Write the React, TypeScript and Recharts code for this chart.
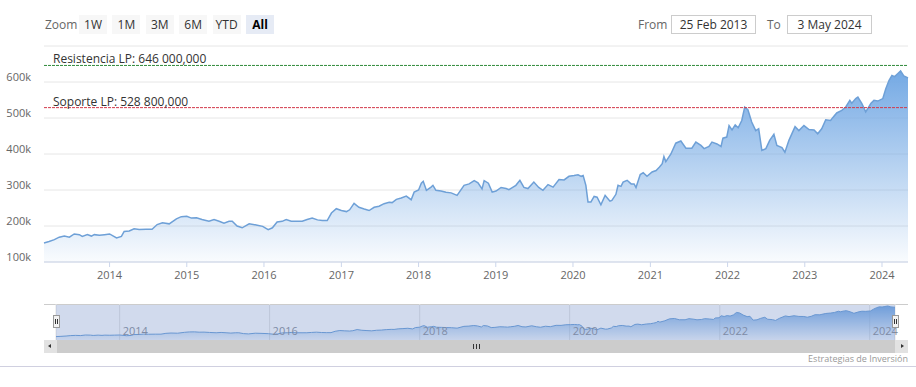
import React from 'react'
import {
  AreaChart,
  Area,
  XAxis,
  YAxis,
  CartesianGrid,
  ReferenceLine,
} from 'recharts'

const FONT = '"Open Sans", "DejaVu Sans", sans-serif'

// weekly-ish closes (values in thousands)
const dates2013 = ['2013-02-25', '2013-03-21', '2013-04-15', '2013-05-08', '2013-06-01', '2013-06-25', '2013-07-18', '2013-08-11', '2013-08-25', '2013-09-18', '2013-10-07', '2013-10-21', '2013-11-14', '2013-12-08']
const values2013 = [153, 157, 162, 169, 172, 169, 178, 176, 171, 176, 172, 176, 174, 176]
const dates2014 = ['2014-01-01', '2014-02-03', '2014-02-26', '2014-03-11', '2014-04-04', '2014-04-27', '2014-05-21', '2014-06-23', '2014-07-21', '2014-08-14', '2014-09-08', '2014-10-10', '2014-11-13', '2014-12-06']
const values2014 = [178, 167, 171, 185, 186, 192, 190, 191, 191, 204, 209, 206, 220, 226]
const dates2015 = ['2015-01-01', '2015-01-23', '2015-02-16', '2015-03-14', '2015-04-16', '2015-05-10', '2015-06-03', '2015-06-26', '2015-07-20', '2015-08-04', '2015-08-27', '2015-09-20', '2015-10-23', '2015-11-25', '2015-12-26']
const values2015 = [227, 222, 223, 218, 213, 218, 213, 208, 213, 213, 200, 195, 206, 203, 199]
const dates2016 = ['2016-01-21', '2016-02-10', '2016-03-03', '2016-03-27', '2016-04-15', '2016-05-09', '2016-06-07', '2016-06-30', '2016-07-23', '2016-08-16', '2016-09-10', '2016-10-03', '2016-10-26', '2016-11-15', '2016-12-08']
const values2016 = [190, 195, 211, 213, 218, 213, 213, 213, 218, 222, 217, 215, 215, 236, 248]
const dates2017 = ['2017-01-01', '2017-01-25', '2017-02-09', '2017-03-02', '2017-03-25', '2017-04-19', '2017-05-12', '2017-06-05', '2017-06-28', '2017-07-22', '2017-08-15', '2017-08-29', '2017-09-18', '2017-10-11', '2017-11-04', '2017-11-27', '2017-12-11']
const values2017 = [243, 240, 245, 263, 252, 247, 243, 252, 255, 262, 266, 265, 274, 278, 283, 273, 294]
const dates2018 = ['2018-01-01', '2018-01-14', '2018-01-23', '2018-02-07', '2018-03-01', '2018-03-10', '2018-03-24', '2018-04-17', '2018-05-11', '2018-06-04', '2018-07-02', '2018-08-04', '2018-08-28', '2018-09-21', '2018-10-09', '2018-10-28', '2018-11-07', '2018-11-27', '2018-12-15']
const values2018 = [300, 319, 324, 299, 308, 313, 299, 297, 294, 292, 285, 313, 317, 326, 320, 303, 326, 319, 294]
const dates2019 = ['2019-01-02', '2019-01-26', '2019-02-19', '2019-03-04', '2019-03-18', '2019-04-06', '2019-04-25', '2019-05-14', '2019-06-02', '2019-06-30', '2019-07-23', '2019-08-12', '2019-09-05', '2019-09-29', '2019-10-27', '2019-11-20', '2019-12-13']
const values2019 = [297, 307, 304, 301, 306, 313, 327, 307, 304, 322, 307, 299, 315, 308, 329, 328, 338]
const dates2020 = ['2020-01-06', '2020-01-25', '2020-02-09', '2020-02-18', '2020-03-02', '2020-03-12', '2020-03-26', '2020-04-10', '2020-04-24', '2020-05-12', '2020-06-01', '2020-06-24', '2020-07-03', '2020-07-22', '2020-08-01', '2020-08-15', '2020-08-25', '2020-09-13', '2020-10-02', '2020-10-16', '2020-10-25', '2020-11-14', '2020-11-28', '2020-12-16']
const values2020 = [340, 342, 338, 340, 313, 267, 267, 282, 280, 259, 285, 269, 271, 288, 313, 310, 322, 327, 317, 317, 307, 343, 348, 338]
const dates2021 = ['2021-01-09', '2021-01-28', '2021-02-12', '2021-02-26', '2021-03-06', '2021-03-15', '2021-04-08', '2021-05-01', '2021-05-25', '2021-06-18', '2021-07-16', '2021-08-04', '2021-08-28', '2021-09-12', '2021-10-05', '2021-10-19', '2021-11-12', '2021-12-01', '2021-12-10', '2021-12-28']
const values2021 = [350, 354, 363, 373, 393, 379, 400, 430, 436, 416, 416, 433, 424, 415, 421, 433, 428, 421, 444, 447]
const dates2022 = ['2022-01-08', '2022-01-22', '2022-02-06', '2022-02-20', '2022-03-09', '2022-03-23', '2022-04-07', '2022-04-25', '2022-05-14', '2022-05-28', '2022-06-12', '2022-07-01', '2022-07-19', '2022-08-08', '2022-08-22', '2022-09-15', '2022-09-29', '2022-10-18', '2022-11-16', '2022-12-04', '2022-12-28']
const values2022 = [479, 467, 481, 473, 493, 530, 523, 489, 465, 470, 410, 415, 438, 455, 424, 418, 405, 438, 476, 465, 479]
const dates2023 = ['2023-01-21', '2023-02-14', '2023-03-03', '2023-03-22', '2023-04-10', '2023-05-03', '2023-05-13', '2023-06-01', '2023-06-25', '2023-07-13', '2023-08-02', '2023-08-11', '2023-08-30', '2023-09-09', '2023-09-28', '2023-10-16', '2023-11-10', '2023-11-24', '2023-12-12']
const values2023 = [468, 467, 456, 470, 495, 493, 501, 514, 521, 530, 549, 541, 554, 558, 540, 517, 541, 549, 547]
const dates2024 = ['2024-01-05', '2024-01-19', '2024-02-03', '2024-02-17', '2024-03-01', '2024-03-15', '2024-03-29', '2024-04-13', '2024-05-03']
const values2024 = [554, 581, 604, 618, 615, 623, 631, 617, 611]

const yTicks = [100, 200, 300, 400, 500, 600, 700]
const xTickYears = [2014, 2015, 2016, 2017, 2018, 2019, 2020, 2021, 2022, 2023, 2024]
const navTickYears = [2014, 2016, 2018, 2020, 2022, 2024]
const rangeButtons = ['1W', '1M', '3M', '6M', 'YTD', 'All']

const resistance = 646
const support = 528.8

const fromLabel = '25 Feb 2013'
const toLabel = '3 May 2024'

const allDates = [...dates2013, ...dates2014, ...dates2015, ...dates2016, ...dates2017, ...dates2018, ...dates2019, ...dates2020, ...dates2021, ...dates2022, ...dates2023, ...dates2024]
const allValues = [...values2013, ...values2014, ...values2015, ...values2016, ...values2017, ...values2018, ...values2019, ...values2020, ...values2021, ...values2022, ...values2023, ...values2024]

const rows = allDates.map((d, i) => ({ t: Date.parse(d), v: allValues[i] }))
const start = Date.parse('2013-02-25')
const end = Date.parse('2024-05-03')

function YTick(props: any) {
  const { x, y, payload } = props
  if (payload.value === 700) return null
  return (
    <text x={x} y={y - 1} textAnchor="end" fontSize={11} fill="#666" fontFamily={FONT}>
      {payload.value}k
    </text>
  )
}

function XTick(props: any) {
  const { x, y, payload } = props
  return (
    <text x={x} y={y + 10} textAnchor="middle" fontSize={11} fill="#666" fontFamily={FONT}>
      {new Date(payload.value).getUTCFullYear()}
    </text>
  )
}

function NavTick(props: any) {
  const { x, y, payload } = props
  return (
    <text x={x + 3} y={y - 5} fontSize={11} fill="#8a8f99" fontFamily={FONT}>
      {new Date(payload.value).getUTCFullYear()}
    </text>
  )
}

function PlotLineLabel(props: any) {
  const { viewBox, text } = props
  return (
    <text x={viewBox.x + 9} y={viewBox.y - 2} fontSize={12} fill="#333" fontFamily={FONT}>
      {text}
    </text>
  )
}

const box: React.CSSProperties = { position: 'absolute', boxSizing: 'border-box' }

export default function App() {
  return (
    <div style={{ position: 'absolute', left: 0, top: 0, width: 916, height: 387, background: '#fff', fontFamily: FONT, overflow: 'hidden' }}>
      {/* range selector */}
      <div style={{ ...box, left: 45, top: 15, height: 19, lineHeight: '19px', fontSize: 12, color: '#666' }}>Zoom</div>
      {rangeButtons.map((b, i) => (
        <div
          key={b}
          style={{
            ...box,
            left: 79 + i * 33.4,
            top: 15,
            width: 28,
            height: 19,
            lineHeight: '19px',
            textAlign: 'center',
            fontSize: 12,
            color: b === 'All' ? '#000' : '#333',
            fontWeight: b === 'All' ? 'bold' : 'normal',
            background: b === 'All' ? '#e6ebf5' : '#f7f7f7',
          }}
        >
          {b}
        </div>
      ))}
      <div style={{ ...box, left: 638, top: 15, height: 19, lineHeight: '19px', fontSize: 12, color: '#666' }}>From</div>
      <div style={{ ...box, left: 671, top: 15, width: 85, height: 19, lineHeight: '17px', fontSize: 12, color: '#333', border: '1px solid #ccc', textAlign: 'center' }}>{fromLabel}</div>
      <div style={{ ...box, left: 767, top: 15, height: 19, lineHeight: '19px', fontSize: 12, color: '#666' }}>To</div>
      <div style={{ ...box, left: 787, top: 15, width: 85, height: 19, lineHeight: '17px', fontSize: 12, color: '#333', border: '1px solid #ccc', textAlign: 'center' }}>{toLabel}</div>

      {/* main chart */}
      <div style={{ position: 'absolute', left: 0, top: 0 }}>
        <AreaChart width={916} height={290} data={rows} margin={{ top: 46, right: 8, bottom: 8, left: 0 }}>
          <defs>
            <linearGradient id="mainFill" x1="0" y1="0" x2="0" y2="1">
              <stop offset="0%" stopColor="#74a9e4" stopOpacity={1} />
              <stop offset="100%" stopColor="#74a9e4" stopOpacity={0.04} />
            </linearGradient>
          </defs>
          <CartesianGrid vertical={false} stroke="#e6e6e6" />
          <XAxis
            dataKey="t"
            type="number"
            domain={[start, end]}
            ticks={xTickYears.map((y) => Date.UTC(y, 0, 1))}
            interval={0}
            tick={<XTick />}
            tickSize={5}
            tickMargin={2}
            height={20}
            axisLine={{ stroke: '#ccd6eb' }}
            tickLine={{ stroke: '#ccd6eb' }}
          />
          <YAxis
            domain={[100, 700]}
            ticks={yTicks}
            interval={0}
            width={44}
            axisLine={false}
            tickLine={false}
            tickSize={0}
            tickMargin={13}
            tick={<YTick />}
          />
          <Area
            dataKey="v"
            type="linear"
            stroke="#6ea0d7"
            strokeWidth={1.5}
            fill="url(#mainFill)"
            fillOpacity={1}
            isAnimationActive={false}
            dot={false}
            activeDot={false}
          />
          <ReferenceLine
            y={resistance}
            stroke="#2f8a3a"
            strokeWidth={1}
            strokeDasharray="3 1"
            label={<PlotLineLabel text="Resistencia LP: 646 000,000" />}
          />
          <ReferenceLine
            y={support}
            stroke="#d2384a"
            strokeWidth={1}
            strokeDasharray="3 1"
            label={<PlotLineLabel text="Soporte LP: 528 800,000" />}
          />
        </AreaChart>
      </div>

      {/* navigator */}
      <div style={{ ...box, left: 44, top: 304, width: 864, height: 1, background: '#cccccc' }} />
      <div style={{ position: 'absolute', left: 0, top: 304 }}>
        <AreaChart width={916} height={37} data={rows} margin={{ top: 0, right: 21, bottom: 0, left: 56 }}>
          <defs>
            <linearGradient id="navFill" x1="0" y1="0" x2="0" y2="1">
              <stop offset="0%" stopColor="#74a9e4" stopOpacity={1} />
              <stop offset="100%" stopColor="#74a9e4" stopOpacity={0.1} />
            </linearGradient>
          </defs>
          <CartesianGrid horizontal={false} stroke="#e3e3e3" />
          <XAxis
            dataKey="t"
            type="number"
            domain={[start, end]}
            ticks={navTickYears.map((y) => Date.UTC(y, 0, 1))}
            interval={0}
            tick={<NavTick />}
            tickSize={0}
            tickMargin={0}
            height={1}
            axisLine={false}
            tickLine={false}
          />
          <YAxis hide domain={[100, 662]} />
          <Area
            dataKey="v"
            type="linear"
            stroke="#6a9fd8"
            strokeWidth={1}
            fill="url(#navFill)"
            fillOpacity={1}
            isAnimationActive={false}
            dot={false}
            activeDot={false}
          />
        </AreaChart>
      </div>
      <div style={{ ...box, left: 56, top: 305, width: 839, height: 35, background: 'rgba(102,133,194,0.3)' }} />
      {[56.5, 895.5].map((hx) => (
        <div key={hx} style={{ ...box, left: hx - 3.5, top: 315, width: 7, height: 13, background: '#f2f2f2', border: '1px solid #999' }}>
          <div style={{ position: 'absolute', left: 1, top: 3, width: 1, height: 5, background: '#333' }} />
          <div style={{ position: 'absolute', left: 3, top: 3, width: 1, height: 5, background: '#333' }} />
        </div>
      ))}

      {/* scrollbar */}
      <div style={{ ...box, left: 44, top: 340, width: 864, height: 13, background: '#cccccc' }} />
      <div style={{ ...box, left: 44, top: 340, width: 13, height: 13, background: '#e2e2e2' }}>
        <div style={{ position: 'absolute', left: 4, top: 4, width: 0, height: 0, borderTop: '2.5px solid transparent', borderBottom: '2.5px solid transparent', borderRight: '3px solid #333' }} />
      </div>
      <div style={{ ...box, left: 895, top: 340, width: 13, height: 13, background: '#e2e2e2' }}>
        <div style={{ position: 'absolute', left: 6, top: 4, width: 0, height: 0, borderTop: '2.5px solid transparent', borderBottom: '2.5px solid transparent', borderLeft: '3px solid #333' }} />
      </div>
      {[473, 476, 479].map((gx) => (
        <div key={gx} style={{ ...box, left: gx, top: 344, width: 1, height: 5, background: '#333' }} />
      ))}

      {/* credits */}
      <div style={{ ...box, left: 0, top: 353, width: 908, textAlign: 'right', fontSize: 9, lineHeight: '12px', color: '#999' }}>Estrategias de Inversión</div>
      <div style={{ ...box, left: 0, top: 366, width: 916, height: 1, background: '#d0d0e0' }} />
    </div>
  )
}
